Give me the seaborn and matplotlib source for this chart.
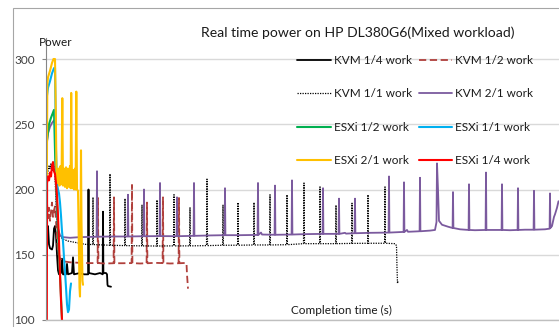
import numpy as np
import pandas as pd
import matplotlib
matplotlib.use("Agg")
import matplotlib.pyplot as plt
from matplotlib.patches import Rectangle
import seaborn as sns

sns.set_theme(style="white")
plt.rcParams["font.family"] = ["Lato", "DejaVu Sans"]

# ---------------- data (time in s, power in W) ----------------
kvm14_t = [1, 2, 3, 4, 6, 7, 8, 9, 10, 11, 12, 13, 15, 16, 17, 20, 21, 22, 26, 27, 28, 34, 38,
           42.2, 42.5, 42.8, 49, 54, 56.7, 57, 57.4, 60, 61, 61.5, 62, 65]
kvm14_v = [165, 172, 158, 155, 154, 157, 170, 172, 165, 150, 138, 135, 136, 147, 135, 135, 143, 135, 136, 148, 135, 136, 135,
           135, 200, 136, 135, 136, 135, 183, 136, 136, 135, 127, 126, 125.5]

kvm12_t = [1, 2, 3, 4, 5, 6, 7, 8, 9, 10, 11, 12, 14, 17, 24, 34, 44,
           51.6, 52, 52.4, 59, 67.6, 68, 68.4, 76, 85.6, 86, 86.4, 94,
           100.6, 101, 101.4, 109, 116.6, 117, 117.4, 124, 132.6, 133, 133.4, 139, 140.5, 141, 142]
kvm12_v = [190, 178, 186, 176, 183, 190, 179, 184, 187, 176, 162, 152, 147, 145, 144.2, 143.8, 143.6,
           143.6, 193.5, 143.6, 143.3, 143.5, 194, 143.5, 143.5, 143.6, 203.5, 143.6, 143.3,
           143.5, 190, 143.5, 143.8, 143.6, 194, 143.6, 143.3, 143.5, 193.5, 143.5, 143.7, 143.5, 135, 124]

kvm11_t = [1, 2, 3, 4, 5, 6, 7, 8, 9, 10, 11, 12, 14, 17, 22, 29, 39,
           46.6, 47, 47.4, 63.6, 64, 64.4, 78.6, 79, 79.4, 95.6, 96, 96.4, 110.6, 111, 111.4,
           127.6, 128, 128.4, 143.6, 144, 144.4, 160.5, 161, 161.5, 176.6, 177, 177.4,
           191.6, 192, 192.4, 207.6, 208, 208.4, 223.6, 224, 224.4, 240.6, 241, 241.4,
           257.5, 258, 258.5, 273.6, 274, 274.4, 289.6, 290, 290.4, 305.6, 306, 306.4,
           321.6, 322, 322.4, 338.6, 339, 339.4, 349, 350.5, 351, 351.5, 352]
kvm11_v = [208, 214, 218, 216, 220, 214, 221, 217, 210, 190, 175, 168, 164, 162, 160.5, 159.5, 158,
           157.8, 194, 157.8, 157.3, 212, 157.3, 157, 193, 157, 156.8, 188, 156.8, 156.7, 192, 156.7,
           156.8, 196, 156.8, 156.8, 186, 156.8, 157, 208, 157, 157.3, 188, 157.3,
           157.3, 190, 157.3, 157.5, 190, 157.5, 157.5, 196, 157.5, 157.7, 196, 157.7,
           158.5, 205, 158.5, 158.5, 202, 158.5, 158.5, 188, 158.5, 158.7, 189.5, 158.7,
           158.8, 196, 158.8, 158.8, 202, 158.8, 158.5, 157, 140, 128, 130]

kvm21_t = [1, 2, 4, 6, 8, 9, 10, 11, 12, 14, 17, 24, 34,
           50.6, 51, 51.4, 64, 81.6, 82, 82.4, 97.6, 98, 98.4, 113.6, 114, 114.4,
           130.6, 131, 131.4, 147.6, 148, 148.4, 164, 178.6, 179, 179.4,
           194, 211.6, 212, 212.4, 215, 216, 228.6, 229, 229.4, 245.6, 246, 246.4,
           259, 276.6, 277, 277.4, 292.6, 293, 293.4, 299, 300, 308.6, 309, 309.4,
           324, 342.6, 343, 343.4, 357.6, 358, 358.4, 361, 362, 373.6, 374, 374.4, 384, 389,
           390.5, 391, 392, 393, 396, 402, 406.6, 407, 407.4, 414, 422.6, 423, 423.4, 429,
           439.6, 440, 440.4, 449, 455.6, 456, 456.4, 464, 471.6, 472, 472.4, 479,
           487.6, 488, 488.4, 499, 503.6, 504, 504.4, 506, 508, 509, 511, 512.5]
kvm21_v = [236, 243, 248, 251, 253, 250, 205, 180, 170, 165, 163.5, 163, 163.5,
           163.8, 214, 163.8, 164, 164, 196, 164, 164.2, 200, 164.2, 164.3, 205, 164.3,
           164.2, 194, 164.2, 164.5, 205, 164.5, 164.8, 165, 201, 165,
           165, 165.2, 205, 165.2, 167, 165.5, 165.3, 203, 165.3, 165.5, 207, 165.5,
           165.8, 166, 201, 166, 166, 193, 166, 166.8, 166.2, 166.5, 193, 166.5,
           166.8, 167, 210, 167, 167.5, 205.5, 167.5, 169, 167.6, 168, 209, 168, 168.5, 169,
           175, 220, 200, 176, 173, 171.5, 170.5, 198, 170.5, 169.5, 169, 204, 169, 168.8,
           169, 213, 169, 169, 169, 204, 169, 168.8, 169, 201, 169, 169.2,
           169.2, 199, 169.2, 169.5, 170, 197, 170.5, 172, 179, 181, 186, 191]

esx12_t = [1, 3, 5, 7, 8, 9, 10, 11, 12, 13, 14, 15, 16, 17]
esx12_v = [238, 250, 255, 259, 261, 230, 205, 190, 170, 150, 135, 118, 100, 90]

esx11_t = [1, 2, 4, 6, 8, 9, 10, 11, 12, 13, 14, 15, 16, 17, 18, 19, 20, 21, 22, 23, 24, 25]
esx11_v = [272, 278, 283, 289, 293, 293, 230, 205, 200, 197, 190, 180, 168, 160, 148, 137, 125, 112, 106, 108, 122, 128]

esx21_t = [0.8, 1.3, 2, 4, 6, 7.5, 9, 9.8, 10.5, 11.5, 12.5, 13.5, 14.5, 15.5, 16.3, 17, 18, 19, 20, 21,
           22, 23, 24, 24.6, 25.2, 26, 27, 28, 29, 29.6, 30.3, 31, 32, 32.8, 33.5, 34, 34.5, 35, 35.5, 36.5, 37]
esx21_v = [200, 280, 286, 291, 297, 300, 300, 260, 212, 205, 216, 203, 218, 204, 270, 203, 216, 202, 217, 201,
           216, 202, 218, 201, 274, 201, 215, 200, 216, 200, 275, 200, 199, 160, 125, 118, 160, 230, 175, 130, 127]

esx14_t = [0.8, 1.1, 2, 3, 4, 5, 6, 7, 8, 9, 10, 11, 12, 13, 14, 15, 16, 17]
esx14_v = [95, 205, 210, 207, 213, 210, 218, 221, 214, 212, 205, 195, 180, 160, 135, 115, 100, 90]

y_ticks = [100, 150, 200, 250, 300]

# ---------------- figure ----------------
W, H = 559, 327
fig = plt.figure(figsize=(W / 100, H / 100), dpi=100)
fig.patch.set_facecolor("white")
fig.add_artist(Rectangle((13 / W, -0.1), 1.0, 1 - 8 / H + 0.1, transform=fig.transFigure,
                         fill=False, edgecolor="#A6A6A6", lw=0.8))
ax = fig.add_axes([46 / W, 7 / H, 1 - 46 / W, 282 / H])
ax.set_facecolor("none")

series = [
    ("KVM 1/4 work", kvm14_t, kvm14_v, "#000000", "-", 1.3),
    ("KVM 1/2 work", kvm12_t, kvm12_v, "#B0403C", (0, (4, 2)), 1.3),
    ("KVM 1/1 work", kvm11_t, kvm11_v, "#000000", (0, (1, 1)), 0.9),
    ("KVM 2/1 work", kvm21_t, kvm21_v, "#7B5A9E", "-", 1.3),
    ("ESXi 1/2 work", esx12_t, esx12_v, "#00B050", "-", 1.5),
    ("ESXi 1/1 work", esx11_t, esx11_v, "#00B0F0", "-", 1.5),
    ("ESXi 2/1 work", esx21_t, esx21_v, "#FFC000", "-", 1.5),
    ("ESXi 1/4 work", esx14_t, esx14_v, "#FF0000", "-", 1.5),
]
handles = {}
for name, t, v, color, ls, lw in series:
    df = pd.DataFrame({"t": t, "v": v})
    sns.lineplot(data=df, x="t", y="v", color=color, linestyle=ls, lw=lw,
                 estimator=None, sort=False, ax=ax)
    handles[name] = ax.lines[-1]

ax.set_xlim(0, 513)
ax.set_ylim(100, 316.1)
ax.set_yticks(y_ticks)
ax.set_xticks([])
ax.set_xlabel("")
ax.set_ylabel("")
ax.yaxis.grid(True, color="#D9D9D9", lw=1.0)
ax.set_axisbelow(True)
for s in ["top", "right"]:
    ax.spines[s].set_visible(False)
ax.spines["left"].set_color("#868686")
ax.spines["left"].set_linewidth(0.8)
ax.spines["bottom"].set_color("#BFBFBF")
ax.spines["bottom"].set_linewidth(1.0)
ax.tick_params(axis="y", direction="out", length=3, width=0.8, color="#868686",
               pad=5, labelsize=8.5, labelcolor="#404040", left=True)

fig.text(358 / W, 1 - 33 / H, "Real time power on HP DL380G6(Mixed workload)",
         ha="center", va="center", fontsize=10.1, color="#1a1a1a")
fig.text(56 / W, 1 - 43 / H, "Power", ha="center", va="center", fontsize=8.5, color="#1a1a1a")
fig.text(341 / W, 1 - 310 / H, "Completion time (s)", ha="center", va="center",
         fontsize=8.5, color="#1a1a1a")

order = ["KVM 1/4 work", "KVM 1/1 work", "ESXi 1/2 work", "ESXi 2/1 work",
         "KVM 1/2 work", "KVM 2/1 work", "ESXi 1/1 work", "ESXi 1/4 work"]
leg = fig.legend([handles[n] for n in order], order, ncol=2, loc="upper left",
                 bbox_to_anchor=(297 / W, 1 - 55 / H), frameon=False, fontsize=8.5,
                 handlelength=2.85, handletextpad=0.25, columnspacing=0.6,
                 labelspacing=1.9, borderpad=0, borderaxespad=0)
for txt in leg.get_texts():
    txt.set_color("#1a1a1a")

fig.savefig("out.png", dpi=100)
